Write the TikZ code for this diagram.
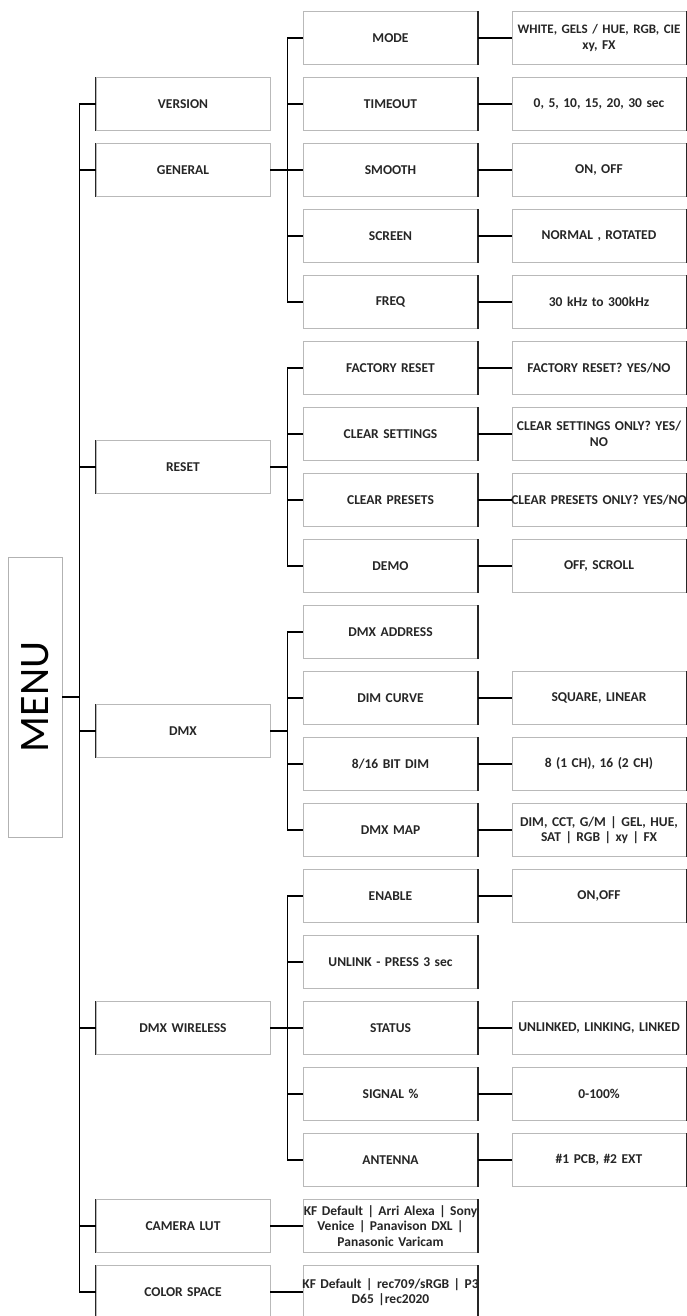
\documentclass[tikz,border=0pt]{standalone}
\usepackage{fontspec}
\setmainfont{Carlito}
\newcommand\oneline[1]{\makebox[\linewidth]{#1}}
\begin{document}
\begin{tikzpicture}[x=1pt,y=-1pt,
  box/.style={draw=gray!55, fill=white, line width=0.8pt, minimum height=53pt,
    text width=168pt, inner xsep=3pt, inner ysep=1pt, align=center,
    font=\fontsize{13.5}{15.5}\selectfont\bfseries, text=black!85},
  menubox/.style={draw=gray!60, fill=white, line width=0.8pt, minimum width=54pt,
    minimum height=280pt, inner sep=0pt, text=black},
  wire/.style={line width=1.8pt, black},
  dark/.style={line width=1.6pt, black!85}]
\useasboundingbox (0,0) rectangle (687,1316);

% root
\node[menubox] (menu) at (35,697) {\rotatebox{90}{\fontsize{42}{42}\selectfont MENU}};

% column 2
\node[box] (ver) at (183,104) {VERSION};
\node[box] (gen) at (183,170) {GENERAL};
\node[box] (rst) at (183,467) {RESET};
\node[box] (dmx) at (183,731) {DMX};
\node[box] (wls) at (183,1028) {DMX WIRELESS};
\node[box] (lut) at (183,1226) {CAMERA LUT};
\node[box] (csp) at (183,1292) {COLOR SPACE};

% column 3
\node[box] (mode)    at (390.5,38)   {MODE};
\node[box] (tout)    at (390.5,104)  {TIMEOUT};
\node[box] (smooth)  at (390.5,170)  {SMOOTH};
\node[box] (screen)  at (390.5,236)  {SCREEN};
\node[box] (freq)    at (390.5,302)  {FREQ};
\node[box] (fr)      at (390.5,368)  {FACTORY RESET};
\node[box] (cs)      at (390.5,434)  {CLEAR SETTINGS};
\node[box] (cp)      at (390.5,500)  {CLEAR PRESETS};
\node[box] (demo)    at (390.5,566)  {DEMO};
\node[box] (addr)    at (390.5,632)  {DMX ADDRESS};
\node[box] (curve)   at (390.5,698)  {DIM CURVE};
\node[box] (bit)     at (390.5,764)  {8/16 BIT DIM};
\node[box] (map)     at (390.5,830)  {DMX MAP};
\node[box] (enable)  at (390.5,896)  {ENABLE};
\node[box] (unlink)  at (390.5,962)  {\oneline{UNLINK - PRESS 3 sec}};
\node[box] (status)  at (390.5,1028) {STATUS};
\node[box] (signal)  at (390.5,1094) {SIGNAL \%};
\node[box] (antenna) at (390.5,1160) {ANTENNA};
\node[box] (lutv)    at (390.5,1226) {\oneline{KF Default | Arri Alexa | Sony}\\\oneline{Venice | Panavison DXL |}\\\oneline{Panasonic Varicam}};
\node[box] (cspv)    at (390.5,1292) {\oneline{KF Default | rec709/sRGB | P3}\\\oneline{D65 |rec2020}};

% column 4
\node[box] (modev)    at (599,38)   {\oneline{\fontsize{13}{15.5}\selectfont WHITE, GELS / HUE, RGB, CIE}\\\oneline{xy, FX}};
\node[box] (toutv)    at (599,104)  {0, 5, 10, 15, 20, 30 sec};
\node[box] (smoothv)  at (599,170)  {ON, OFF};
\node[box] (screenv)  at (599,236)  {NORMAL , ROTATED};
\node[box] (freqv)    at (599,302)  {30 kHz to 300kHz};
\node[box] (frv)      at (599,368)  {\oneline{FACTORY RESET? YES/NO}};
\node[box] (csv)      at (599,434)  {\oneline{CLEAR SETTINGS ONLY? YES/}\\\oneline{NO}};
\node[box] (cpv)      at (599,500)  {\oneline{CLEAR PRESETS ONLY? YES/NO}};
\node[box] (demov)    at (599,566)  {OFF, SCROLL};
\node[box] (curvev)   at (599,698)  {SQUARE, LINEAR};
\node[box] (bitv)     at (599,764)  {8 (1 CH), 16 (2 CH)};
\node[box] (mapv)     at (599,830)  {\oneline{DIM, CCT, G/M | GEL, HUE,}\\\oneline{SAT | RGB | xy | FX}};
\node[box] (enablev)  at (599,896)  {ON,OFF};
\node[box] (statusv)  at (599,1028) {\oneline{UNLINKED, LINKING, LINKED}};
\node[box] (signalv)  at (599,1094) {0-100\%};
\node[box] (antennav) at (599,1160) {\#1 PCB, \#2 EXT};

% dark edges
\foreach \n in {ver,gen,rst,dmx,wls,lut,csp}
  \draw[dark] (\n.north west) -- (\n.south west);
\foreach \n in {mode,tout,smooth,screen,freq,fr,cs,cp,demo,addr,curve,bit,map,enable,unlink,status,signal,antenna,lutv,cspv,
  modev,toutv,smoothv,screenv,freqv,frv,csv,cpv,demov,curvev,bitv,mapv,enablev,statusv,signalv,antennav}
  \draw[dark] (\n.north east) -- (\n.south east);

% connectors
\foreach \c in {ver,gen,rst,dmx,wls,lut,csp}
  \draw[wire] (menu.east) -- ++(17,0) |- (\c.west);
\foreach \c in {mode,tout,smooth,screen,freq}
  \draw[wire] (gen.east) -- ++(17,0) |- (\c.west);
\foreach \c in {fr,cs,cp,demo}
  \draw[wire] (rst.east) -- ++(17,0) |- (\c.west);
\foreach \c in {addr,curve,bit,map}
  \draw[wire] (dmx.east) -- ++(17,0) |- (\c.west);
\foreach \c in {enable,unlink,status,signal,antenna}
  \draw[wire] (wls.east) -- ++(17,0) |- (\c.west);
\draw[wire] (lut.east) -- (lutv.west);
\draw[wire] (csp.east) -- (cspv.west);
\foreach \a/\b in {mode/modev,tout/toutv,smooth/smoothv,screen/screenv,freq/freqv,fr/frv,cs/csv,cp/cpv,demo/demov,
  curve/curvev,bit/bitv,map/mapv,enable/enablev,status/statusv,signal/signalv,antenna/antennav}
  \draw[wire] (\a.east) -- (\b.west);
\end{tikzpicture}
\end{document}
